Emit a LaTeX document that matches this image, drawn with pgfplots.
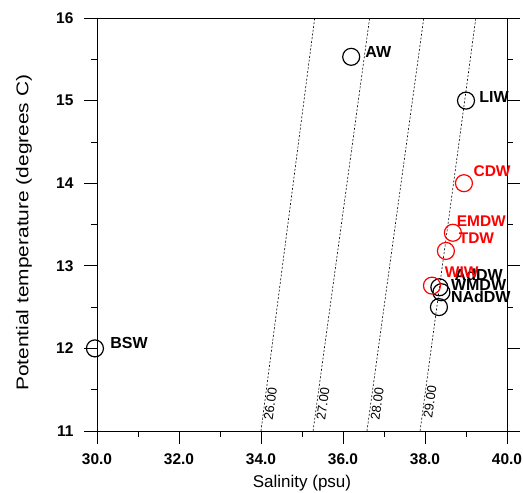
\documentclass[border=0pt]{standalone}
\usepackage{fontspec}
\setmainfont{Liberation Sans}
\usepackage{pgfplots}
\pgfplotsset{compat=1.18}
\begin{document}
\begin{tikzpicture}
\useasboundingbox (-97pt,-62pt) rectangle (426pt,431pt);
\begin{axis}[
  at={(0pt,0pt)}, anchor=south west,
  scale only axis, width=410pt, height=413pt,
  xmin=30, xmax=40, ymin=11, ymax=16,
  xtick={30,32,...,40}, minor xtick={31,33,...,39},
  ytick={11,...,16}, minor ytick={11.5,12.5,...,15.5},
  tick align=outside,
  major tick length=13pt, minor tick length=6pt,
  xtick pos=left, ytick pos=both,
  every tick/.style={black, line width=0.8pt},
  axis line style={line width=0.8pt},
  /pgf/number format/assume math mode=true,
  tick label style={font=\fontsize{15.5}{18}\selectfont\bfseries},
  xticklabel style={yshift=-6pt, /pgf/number format/.cd, fixed, fixed zerofill, precision=1},
  yticklabel style={xshift=-7pt},
  xlabel={Salinity (psu)},
  ylabel={\scalebox{1.23}[1]{Potential temperature (degrees C)}},
  label style={font=\fontsize{17}{20}\selectfont},
  xlabel style={at={(axis description cs:0.5,-0.1259)}, anchor=center},
  ylabel style={at={(axis description cs:-0.178,0.48)}, anchor=center},
  clip=false,
]
% isopycnals
\addplot[black, line width=0.6pt, dash pattern=on 2pt off 1.8pt] coordinates {(34.00,11) (35.31,16)};
\addplot[black, line width=0.6pt, dash pattern=on 2pt off 1.8pt] coordinates {(35.27,11) (36.65,16)};
\addplot[black, line width=0.6pt, dash pattern=on 2pt off 1.8pt] coordinates {(36.585,11) (37.97,16)};
\addplot[black, line width=0.6pt, dash pattern=on 2pt off 1.8pt] coordinates {(37.88,11) (39.24,16)};
\begin{scope}[every node/.style={rotate=82, anchor=north, inner sep=1.5pt, font=\fontsize{13}{15}\selectfont}]
\node at (axis cs:34.08,11.34) {26.00};
\node at (axis cs:35.36,11.34) {27.00};
\node at (axis cs:36.68,11.34) {28.00};
\node at (axis cs:37.97,11.36) {29.00};
\end{scope}
% black water masses
\addplot[only marks, mark=o, mark size=8.5pt, line width=1.2pt, black] coordinates {
(36.20,15.53) (39.00,15.00) (38.35,12.74) (38.40,12.68) (38.34,12.50) (29.95,12.00)};
\begin{scope}[every node/.style={anchor=west, inner sep=0pt, font=\fontsize{16}{19}\selectfont\bfseries}]
\node at (axis cs:36.54,15.59) {AW};
\node at (axis cs:39.32,15.04) {LIW};
\node at (axis cs:38.72,12.89) {AdDW};
\node at (axis cs:38.63,12.77) {WMDW};
\node at (axis cs:38.63,12.62) {NAdDW};
\node at (axis cs:30.32,12.07) {BSW};
\end{scope}
% red water masses
\addplot[only marks, mark=o, mark size=8.5pt, line width=1.2pt, red] coordinates {
(38.95,14.00) (38.68,13.40) (38.51,13.18) (38.17,12.76)};
\begin{scope}[every node/.style={anchor=west, inner sep=0pt, text=red, font=\fontsize{15.5}{18}\selectfont\bfseries}]
\node at (axis cs:39.18,14.15) {CDW};
\node at (axis cs:38.77,13.54) {EMDW};
\node at (axis cs:38.82,13.34) {TDW};
\node at (axis cs:38.48,12.92) {WIW};
\end{scope}
\draw[line width=0.8pt] (axis cs:29.83,11) -- (axis cs:40.32,11);
\end{axis}
\end{tikzpicture}
\end{document}
